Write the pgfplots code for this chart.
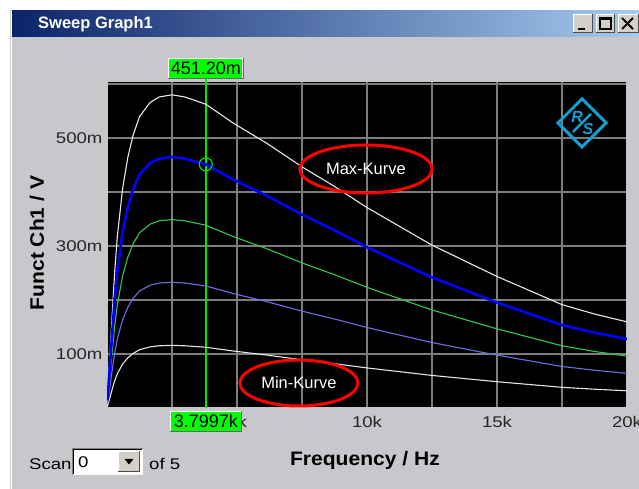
\documentclass[border=0pt]{standalone}
\usepackage{pgfplots}
\pgfplotsset{compat=1.18}
\usepackage{pgfplotstable}
\usepackage{fontspec}
\setmainfont{Liberation Sans}
\newfontfamily\tickfont[FakeStretch=1.2]{Liberation Sans}
\newfontfamily\wideb[FakeStretch=1.08]{Liberation Sans}

\definecolor{winbg}{RGB}{200,200,204}
\definecolor{tbdark}{RGB}{10,36,106}
\definecolor{tblight}{RGB}{166,202,240}
\definecolor{gridc}{RGB}{125,125,125}
\definecolor{curgreen}{RGB}{0,255,0}
\definecolor{curline}{RGB}{0,235,0}
\definecolor{cfive}{RGB}{232,232,232}
\definecolor{cthree}{RGB}{50,200,80}
\definecolor{ctwo}{RGB}{110,110,230}
\definecolor{cone}{RGB}{228,228,228}
\definecolor{rscyan}{RGB}{20,160,210}
\definecolor{btnface}{RGB}{212,208,200}

\pgfplotstableread{
f s1 s2 s3 s4 s5
0.02 0.0035 0.0070 0.0105 0.0140 0.0174
0.1 0.0174 0.0350 0.0524 0.0698 0.0870
0.2 0.0348 0.0699 0.1047 0.1395 0.1740
0.3 0.0510 0.1025 0.1536 0.2046 0.2552
0.4 0.0638 0.1282 0.1920 0.2558 0.3190
0.6 0.0812 0.1631 0.2443 0.3255 0.4060
0.8 0.0928 0.1864 0.2792 0.3720 0.4640
1.0 0.1009 0.2027 0.3036 0.4046 0.5046
1.25 0.1079 0.2167 0.3246 0.4325 0.5394
1.65 0.1131 0.2272 0.3403 0.4534 0.5655
2.0 0.1152 0.2314 0.3466 0.4617 0.5759
2.5 0.1160 0.2330 0.3490 0.4650 0.5800
3.0 0.1152 0.2314 0.3466 0.4617 0.5759
3.8 0.1125 0.2260 0.3385 0.4512 0.5626
4.85 0.1056 0.2120 0.3176 0.4232 0.5278
6.15 0.0980 0.1969 0.2949 0.3929 0.4901
7.5 0.0893 0.1794 0.2687 0.3581 0.4466
8.7 0.0824 0.1654 0.2478 0.3302 0.4118
10 0.0742 0.1491 0.2234 0.2976 0.3712
11.25 0.0673 0.1351 0.2024 0.2697 0.3364
12.5 0.0603 0.1212 0.1815 0.2418 0.3016
13.75 0.0545 0.1095 0.1640 0.2186 0.2726
15 0.0487 0.0979 0.1466 0.1953 0.2436
16.25 0.0435 0.0874 0.1309 0.1744 0.2175
17.5 0.0383 0.0769 0.1152 0.1535 0.1914
18.75 0.0348 0.0699 0.1047 0.1395 0.1740
20 0.0319 0.0641 0.0960 0.1279 0.1595
}\curves

\begin{document}
\begin{tikzpicture}
% page
\fill[white] (0pt,0pt) rectangle (639pt,489pt);
\useasboundingbox (0pt,0pt) rectangle (639pt,489pt);
% window body
\fill[winbg] (10pt,0pt) rectangle (639pt,479pt);
\draw[btnface, line width=1pt] (10.5pt,0pt) -- (10.5pt,478.5pt) -- (639pt,478.5pt);
\draw[white, line width=1pt] (11.5pt,0pt) -- (11.5pt,477.5pt);
% title bar
\shade[left color=tbdark, right color=tblight] (12pt,452pt) rectangle (639pt,478pt);
\node[anchor=west, text=white, font=\bfseries\fontsize{16.5}{18}\selectfont, inner sep=0pt] at (38pt,465pt) {Sweep Graph1};
% title buttons
\foreach \xa/\xb in {573/593, 596/615, 618/639}{
  \fill[btnface] (\xa pt,456pt) rectangle (\xb pt,475pt);
  \draw[white, line width=1pt] (\xa pt+0.5pt,456pt) -- (\xa pt+0.5pt,474.5pt) -- (\xb pt,474.5pt);
  \draw[black!70, line width=1pt] (\xa pt,456.5pt) -- (\xb pt-0.5pt,456.5pt) -- (\xb pt-0.5pt,475pt);
}
\draw[black, line width=2pt] (578pt,460pt) -- (585pt,460pt);
\draw[black, line width=1.2pt] (600pt,460pt) rectangle (611pt,471pt);
\draw[black, line width=2.5pt] (600pt,470.5pt) -- (611pt,470.5pt);
\draw[black, line width=1.8pt] (622pt,460pt) -- (633pt,471pt);
\draw[black, line width=1.8pt] (622pt,471pt) -- (633pt,460pt);

\begin{axis}[
  at={(107pt,81pt)}, anchor=south west,
  scale only axis, width=520pt, height=327pt,
  xmin=0, xmax=20, ymin=0, ymax=0.6056,
  axis background/.style={fill=black},
  axis line style={draw=gray!45, line width=1.5pt},
  grid=major, grid style={draw=gridc, line width=1.2pt},
  major tick length=0pt,
  xtick={2.5,5,7.5,10,12.5,15,17.5,20},
  xticklabels={,5k,,10k,,15k,,20k},
  ytick={0.1,0.2,0.3,0.4,0.5,0.6},
  yticklabels={100m,,300m,,500m,},
  tick label style={font=\tickfont\fontsize{15.5}{17}\selectfont, text=black!85},
  xticklabel style={yshift=-5pt},
  yticklabel style={xshift=-1pt},
  clip=false,
]
\begin{scope}
\clip (axis cs:0,0) rectangle (axis cs:20,0.6056);
\addplot[draw=curline, line width=1.5pt] coordinates {(3.7997,0) (3.7997,0.6056)};
\addplot[cone, line width=1.1pt] table[x=f, y=s1] {\curves};
\addplot[ctwo, line width=1.1pt] table[x=f, y=s2] {\curves};
\addplot[cthree, line width=1.1pt] table[x=f, y=s3] {\curves};
\addplot[cfive, line width=1.1pt] table[x=f, y=s5] {\curves};
\addplot[blue, line width=2.6pt] table[x=f, y=s4] {\curves};
\addplot[only marks, mark=o, mark size=6.5pt, mark options={draw=curline, line width=1.1pt}] coordinates {(3.7997,0.4512)};
\end{scope}
\draw[curline, line width=1.5pt] (axis cs:3.7997,0.6056) -- (axis cs:3.7997,0.612);
% annotations
\draw[red, line width=3pt] (axis cs:9.96,0.4426) ellipse [x radius=66pt, y radius=24pt];
\node[text=white, font=\fontsize{16.5}{18}\selectfont] at (axis cs:9.96,0.4426) {Max-Kurve};
\draw[red, line width=3pt] (axis cs:7.38,0.0463) ellipse [x radius=59pt, y radius=23pt];
\node[text=white, font=\fontsize{16.5}{18}\selectfont] at (axis cs:7.38,0.0463) {Min-Kurve};
% R&S logo
\node[draw=rscyan, line width=3pt, minimum size=34pt, rotate=45, inner sep=0pt] at (axis cs:18.27,0.528) {};
\node[text=rscyan, font=\bfseries\itshape\fontsize{16}{17}\selectfont] at ([xshift=-5pt,yshift=6pt]axis cs:18.27,0.528) {R};
\node[text=rscyan, font=\bfseries\itshape\fontsize{16}{17}\selectfont] at ([xshift=6pt,yshift=-6pt]axis cs:18.27,0.528) {S};
\draw[rscyan, line width=2.5pt] ([xshift=-9pt,yshift=-9pt]axis cs:18.27,0.528) -- ([xshift=9pt,yshift=9pt]axis cs:18.27,0.528);
% cursor readouts
\node[fill=curgreen, draw=white, line width=1pt, minimum width=74pt, minimum height=20pt, inner sep=0pt, font=\fontsize{18}{19}\selectfont] (tb) at (axis cs:3.7997,0.6296) {451.20m};
\draw[black!60, line width=1.2pt] (tb.south west) -- (tb.south east) -- (tb.north east);
\node[fill=curgreen, draw=white, line width=1pt, minimum width=71pt, minimum height=20pt, inner sep=0pt, font=\fontsize{18}{19}\selectfont] (bb) at (axis cs:3.7997,-0.0241) {3.7997k};
\draw[black!60, line width=1.2pt] (bb.south west) -- (bb.south east) -- (bb.north east);
\end{axis}

% axis titles
\node[rotate=90, font=\wideb\bfseries\fontsize{19.5}{21}\selectfont] at (37pt,246pt) {Funct Ch1 / V};
\node[font=\wideb\bfseries\fontsize{19.5}{21}\selectfont] at (365pt,29pt) {Frequency / Hz};

% scan widget
\node[anchor=west, inner sep=0pt, font=\tickfont\fontsize{15.5}{17}\selectfont] at (29pt,25pt) {Scan};
\fill[white] (72pt,14pt) rectangle (143pt,41pt);
\draw[gray, line width=1pt] (72.5pt,14pt) -- (72.5pt,40.5pt) -- (143pt,40.5pt);
\draw[black, line width=1pt] (73.5pt,15pt) -- (73.5pt,39.5pt) -- (142pt,39.5pt);
\fill[btnface] (118pt,17pt) rectangle (140pt,38pt);
\draw[white, line width=1pt] (118.5pt,17pt) -- (118.5pt,37.5pt) -- (140pt,37.5pt);
\draw[black!70, line width=1pt] (118pt,17.5pt) -- (139.5pt,17.5pt) -- (139.5pt,38pt);
\fill[black] (124.5pt,30pt) -- (133.5pt,30pt) -- (129pt,24.5pt) -- cycle;
\node[anchor=west, inner sep=0pt, font=\tickfont\fontsize{15.5}{17}\selectfont] at (78pt,27pt) {0};
\node[anchor=west, inner sep=0pt, font=\tickfont\fontsize{15.5}{17}\selectfont] at (149pt,25pt) {of 5};
\end{tikzpicture}
\end{document}
